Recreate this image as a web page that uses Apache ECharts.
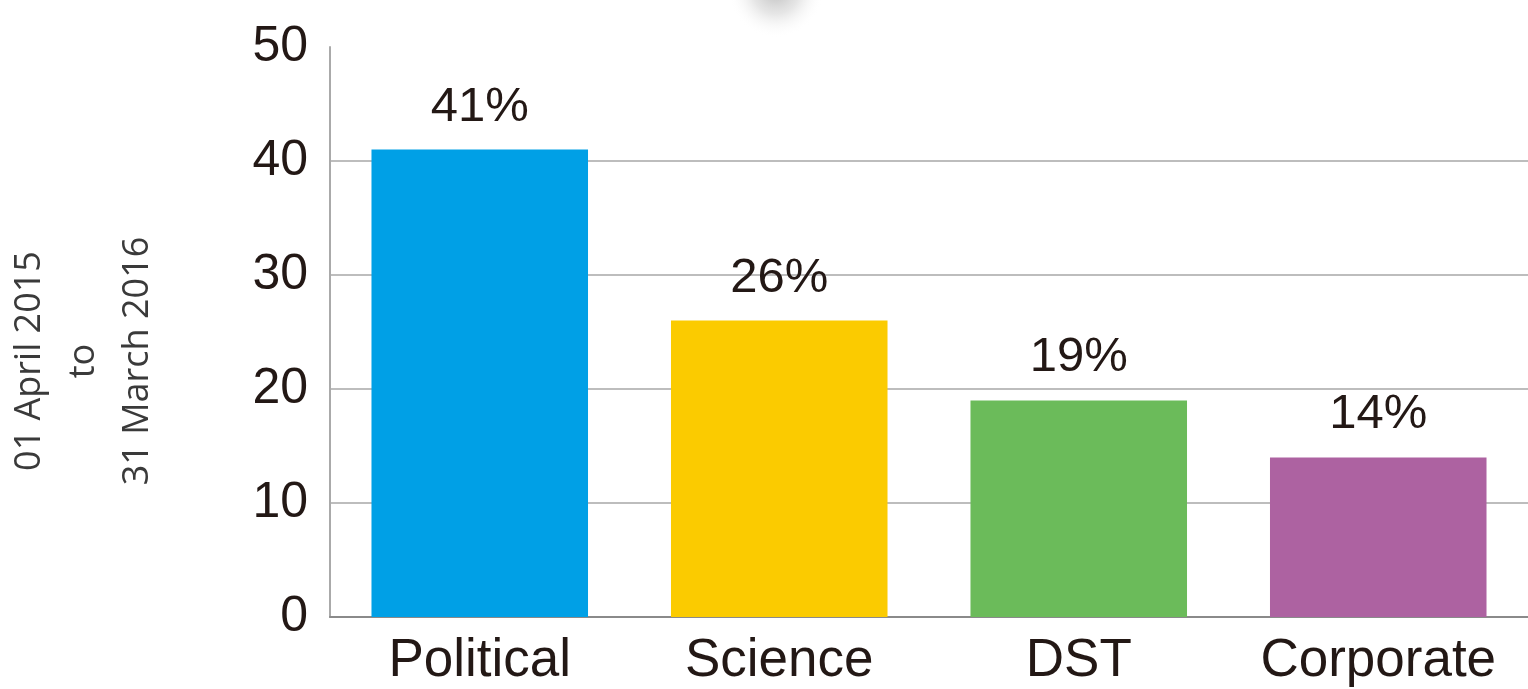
<!DOCTYPE html>
<html>
<head>
<meta charset="utf-8">
<script src="https://cdn.jsdelivr.net/npm/echarts@6/dist/echarts.min.js"></script>
<style>
html,body{margin:0;padding:0;background:#fff;}
#chart{width:1528px;height:689px;}
</style>
</head>
<body>
<div id="chart"></div>
<script>
const categories = ['Political', 'Science', 'DST', 'Corporate'];
const values = [41, 26, 19, 14];
const labels = ['41%', '26%', '19%', '14%'];
const barColors = ['#00a0e6', '#fbcb00', '#6bbb5a', '#ad62a1'];
const sideLines = ['01 April 2015', 'to', '31 March 2016'];

const chart = echarts.init(document.getElementById('chart'));
const textColor = '#231815';

chart.setOption({
  animation: false,
  backgroundColor: '#fff',
  grid: { left: 330, right: -2, top: 47, bottom: 72, containLabel: false },
  xAxis: {
    type: 'category',
    data: categories,
    axisLine: { show: true, lineStyle: { color: '#8a8a8a', width: 2 } },
    axisTick: { show: false },
    axisLabel: { interval: 0, hideOverlap: false, color: textColor, fontSize: 53, fontFamily: 'Liberation Sans, Arial, sans-serif', margin: 18 }
  },
  yAxis: {
    type: 'value',
    min: 0, max: 50, interval: 10,
    axisLine: { show: true, lineStyle: { color: '#aaaaaa', width: 2 } },
    axisTick: { show: false },
    axisLabel: { color: textColor, fontSize: 50, fontFamily: 'Liberation Sans, Arial, sans-serif', margin: 22 },
    splitLine: { show: true, lineStyle: { color: ['#bdbdbd','#bdbdbd','#bdbdbd','#bdbdbd','#bdbdbd','rgba(0,0,0,0)'], width: 2 } }
  },
  series: [{
    type: 'bar',
    barWidth: '72.3%',
    data: values.map((v, i) => ({ value: v, itemStyle: { color: barColors[i] } })),
    label: {
      show: true,
      position: 'top',
      distance: 18,
      color: textColor,
      fontSize: 49,
      fontFamily: 'Liberation Sans, Arial, sans-serif',
      formatter: p => labels[p.dataIndex]
    }
  }],
  graphic: [
    {
      type: 'circle',
      shape: { cx: 776, cy: -10, r: 48 },
      style: {
        fill: {
          type: 'radial', x: 0.5, y: 0.5, r: 0.5,
          colorStops: [
            { offset: 0, color: 'rgba(160,160,160,0.7)' },
            { offset: 0.5, color: 'rgba(200,200,200,0.45)' },
            { offset: 1, color: 'rgba(255,255,255,0)' }
          ]
        }
      },
      silent: true
    },
    {
      type: 'text',
      x: 84, y: 361,
      rotation: Math.PI / 2,
      style: {
        text: sideLines.join('\n'),
        fill: '#3a3a3a',
        font: '36px "Open Sans", "Noto Sans", sans-serif',
        lineHeight: 54,
        align: 'center',
        verticalAlign: 'middle'
      }
    }
  ]
});
</script>
</body>
</html>
